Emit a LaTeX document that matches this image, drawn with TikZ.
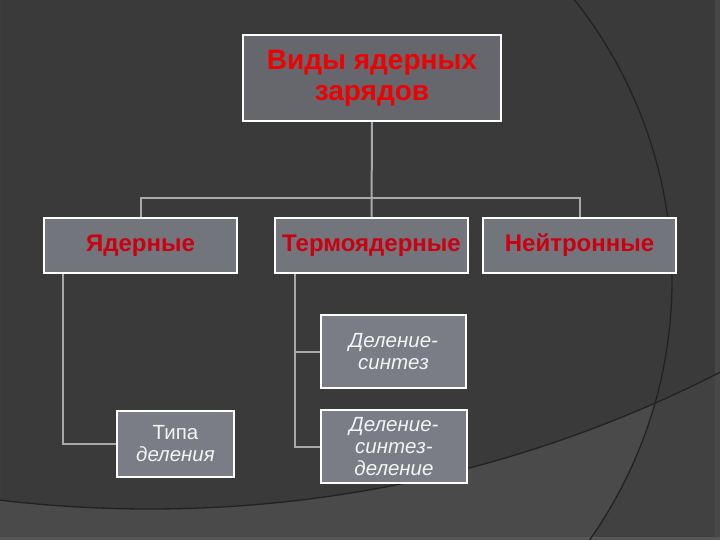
\documentclass[tikz,border=0pt]{standalone}
\usepackage{fontspec}
\setmainfont{Liberation Sans}
\definecolor{bg}{HTML}{3A3A3A}
\definecolor{bglow}{HTML}{4A4A4A}
\definecolor{bglowout}{HTML}{414141}
\definecolor{rstrip}{HTML}{474747}
\definecolor{bstrip}{HTML}{565656}
\definecolor{arcline}{HTML}{222222}
\definecolor{topfill}{HTML}{65676D}
\definecolor{midfill}{HTML}{72757C}
\definecolor{lowfill}{HTML}{7A7D85}
\definecolor{conncol}{HTML}{A9A9A9}
\definecolor{redtop}{HTML}{F00000}
\definecolor{redmid}{HTML}{CC0010}
\definecolor{txtwhite}{HTML}{F4F4F4}
\begin{document}
\begin{tikzpicture}[x=1pt,y=-1pt,
  box/.style={draw=white,line width=2.5pt,rectangle,inner sep=0pt,align=center},
  topbox/.style={box,fill=topfill,minimum width=258pt,minimum height=86pt,text=redtop,font=\fontsize{28}{31}\selectfont\bfseries},
  midbox/.style={box,fill=midfill,minimum width=193pt,minimum height=55pt,text=redmid,font=\fontsize{24}{27}\selectfont\bfseries},
  lowbox/.style={box,fill=lowfill,minimum height=73pt,text=txtwhite,font=\fontsize{20.5}{22}\selectfont},
  conn/.style={draw=conncol,line width=2pt},
  deco/.style={draw=arcline,line width=1.3pt}]
% background
\useasboundingbox (0,0) rectangle (720,540);
\fill[bg] (0,0) rectangle (720,540);
\fill[bglowout,even odd rule] (0,0) rectangle (720,540) (150,-745) circle[radius=1254pt];
\begin{scope}
  \clip (221,280) circle[radius=451pt];
  \fill[bglow,even odd rule] (0,0) rectangle (720,540) (150,-745) circle[radius=1254pt];
\end{scope}
\fill[rstrip] (715,0) rectangle (720,540);
\fill[bstrip] (0,537) rectangle (720,540);
\begin{scope}
  \clip (0,0) rectangle (720,540);
  \draw[deco] (221,280) circle[radius=451pt];
  \draw[deco] (150,-745) circle[radius=1254pt];
\end{scope}
% nodes
\node[topbox] (top) at (372,78) {Виды ядерных\\зарядов};
\node[midbox] (yad) at (140.5,245.5) {Ядерные};
\node[midbox] (ter) at (371.5,245.5) {Термоядерные};
\node[midbox] (neu) at (579.5,245.5) {Нейтронные};
\node[lowbox,minimum width=117pt,minimum height=66pt] (tipa) at (175.5,444) {Типа\\\textit{деления}};
\node[lowbox,minimum width=145pt,font=\fontsize{20.5}{22}\selectfont\itshape] (ds) at (393.5,351.5) {Деление-\\синтез};
\node[lowbox,minimum width=146pt,font=\fontsize{20.5}{22}\selectfont\itshape] (dsd) at (394,446.5) {Деление-\\синтез-\\деление};
% connectors
\draw[conn] (top.south) -- (ter.north);
\draw[conn] (yad.north) -- ++(0,-19) -| (neu.north);
\draw[conn] (yad.south west) ++(20,0) |- (tipa.west);
\draw[conn] (ter.south west) ++(21,0) |- (ds.west);
\draw[conn] (ter.south west) ++(21,0) |- (dsd.west);
\end{tikzpicture}
\end{document}
